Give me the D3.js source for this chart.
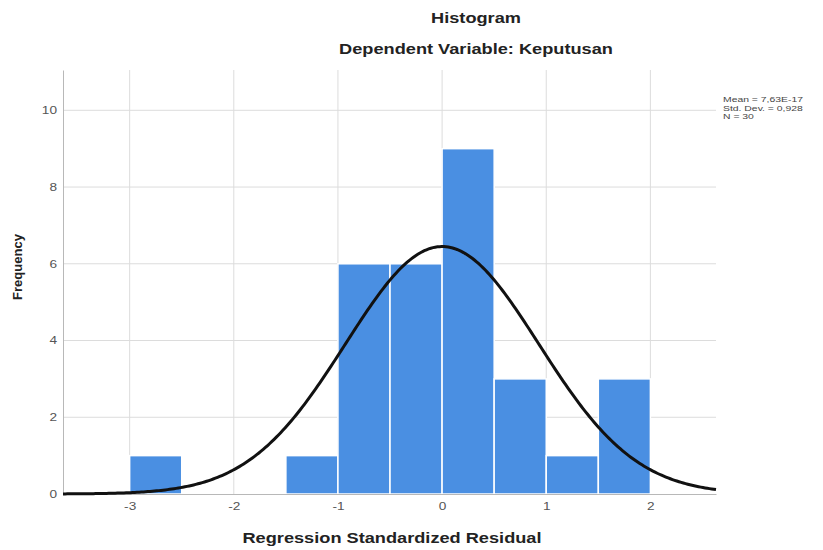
<!DOCTYPE html>
<html>
<head>
<meta charset="utf-8">
<script src="https://cdn.jsdelivr.net/npm/d3@7/dist/d3.min.js"></script>
<style>
  html, body { margin: 0; padding: 0; background: #fff; }
  svg { display: block; font-family: "Liberation Sans", Arial, sans-serif; }
</style>
</head>
<body>
<svg id="chart" width="823" height="550"></svg>
<script>
// Histogram bins of the standardized residuals (bin width 0.5)
const binStarts = [-3.0, -2.5, -2.0, -1.5, -1.0, -0.5, 0.0, 0.5, 1.0, 1.5];
const binCounts = [1, 0, 0, 1, 6, 6, 9, 3, 1, 3];
const binWidth = 0.5;

// Summary statistics shown in the legend
const statMean = 7.63e-17;
const statSD = 0.928;
const statN = 30;
const legendLines = ["Mean = 7,63E-17", "Std. Dev. = 0,928", "N = 30"];

const xTicks = [-3, -2, -1, 0, 1, 2];
const yTicks = [0, 2, 4, 6, 8, 10];

const titleText = "Histogram";
const subtitleText = "Dependent Variable: Keputusan";
const xTitle = "Regression Standardized Residual";
const yTitle = "Frequency";

// Horizontal text is drawn widened
const stretch = 1.3;

const svg = d3.select("#chart");
const plotL = 63, plotR = 716, plotT = 70, plotB = 494;

const x = d3.scaleLinear().domain([-3.64, 2.63]).range([plotL, plotR]);
const y = d3.scaleLinear().domain([0, 11.05]).range([plotB, plotT]);

// Grid lines
const grid = svg.append("g");
grid.selectAll("line.h").data(yTicks.filter(d => d > 0)).join("line")
  .attr("class", "h")
  .attr("x1", plotL).attr("x2", plotR)
  .attr("y1", d => y(d)).attr("y2", d => y(d))
  .attr("stroke", "#dcdcdc").attr("stroke-width", 1);
grid.selectAll("line.v").data(xTicks).join("line")
  .attr("class", "v")
  .attr("x1", d => x(d)).attr("x2", d => x(d))
  .attr("y1", plotT).attr("y2", plotB)
  .attr("stroke", "#dcdcdc").attr("stroke-width", 1);

// Bars
const bins = binStarts.map((s, i) => ({ x0: s, x1: s + binWidth, n: binCounts[i] }))
  .filter(b => b.n > 0);
svg.append("g").selectAll("rect").data(bins).join("rect")
  .attr("x", d => x(d.x0))
  .attr("y", d => y(d.n))
  .attr("width", d => x(d.x1) - x(d.x0))
  .attr("height", d => y(0) - y(d.n))
  .attr("fill", "#4a8fe2")
  .attr("stroke", "#ffffff")
  .attr("stroke-width", 1.5);

// Axes
const fmt = d => String(d);
const xAxis = d3.axisBottom(x).tickValues(xTicks).tickSize(0).tickPadding(9).tickFormat(fmt);
const gx = svg.append("g").attr("transform", `translate(0,${plotB})`).call(xAxis);
gx.select(".domain").attr("stroke", "#b8b8b8");
gx.selectAll("text").attr("fill", "#555").style("font-size", "10.5px")
  .style("font-family", "'Liberation Sans', Arial, sans-serif")
  .attr("transform", `scale(${stretch},1)`);

const yAxis = d3.axisLeft(y).tickValues(yTicks).tickSize(0).tickPadding(0).tickFormat(fmt);
const gy = svg.append("g").attr("transform", `translate(${plotL},0)`).call(yAxis);
gy.select(".domain").attr("stroke", "#b8b8b8");
gy.selectAll("text").attr("fill", "#555").style("font-size", "10.5px")
  .style("font-family", "'Liberation Sans', Arial, sans-serif")
  .attr("x", -6 / stretch)
  .attr("transform", `scale(${stretch},1)`);

// Normal curve scaled to the histogram
const scale = statN * binWidth;
const normal = v => scale * Math.exp(-0.5 * Math.pow((v - statMean) / statSD, 2)) / (statSD * Math.sqrt(2 * Math.PI));
const xs = d3.range(0, 301).map(i => x.domain()[0] + (x.domain()[1] - x.domain()[0]) * i / 300);
svg.append("path")
  .datum(xs)
  .attr("d", d3.line().x(d => x(d)).y(d => y(normal(d))))
  .attr("fill", "none")
  .attr("stroke", "#111")
  .attr("stroke-width", 3);

// Titles
function wideText(px, py, txt, size) {
  return svg.append("text")
    .attr("transform", `translate(${px},${py}) scale(${stretch},1)`)
    .attr("text-anchor", "middle")
    .style("font-size", size + "px").style("font-weight", "bold").attr("fill", "#222")
    .text(txt);
}
wideText(476, 23, titleText, 14);
wideText(476, 54, subtitleText, 14);
wideText(392, 543, xTitle, 14);
svg.append("text")
  .attr("transform", "translate(22,267) rotate(-90)")
  .attr("text-anchor", "middle")
  .style("font-size", "13px").style("font-weight", "bold").attr("fill", "#222")
  .text(yTitle);

// Legend with summary statistics
svg.append("g").selectAll("text").data(legendLines).join("text")
  .attr("transform", (d, i) => `translate(723,${102 + i * 8.5}) scale(${stretch},1)`)
  .style("font-size", "8px").attr("fill", "#444")
  .text(d => d);
</script>
</body>
</html>
